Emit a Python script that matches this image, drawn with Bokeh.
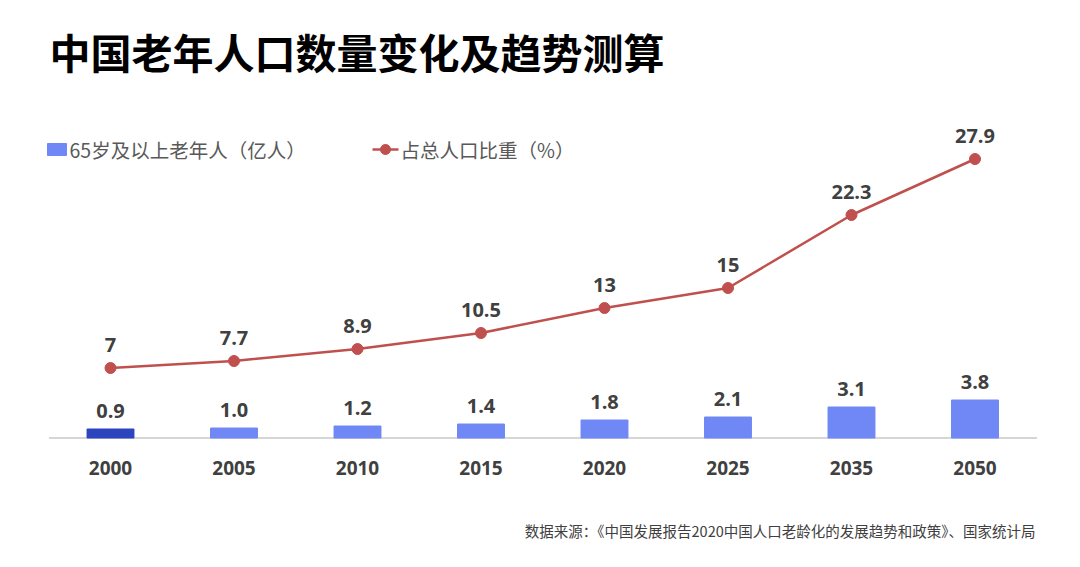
from bokeh.plotting import figure
from bokeh.models import Range1d, ColumnDataSource
from bokeh.core.properties import value
from bokeh.embed import file_html
from bokeh.resources import INLINE

# ---- data ----
years = ["2000", "2005", "2010", "2015", "2020", "2025", "2035", "2050"]
elderly_pop = [0.9, 1.0, 1.2, 1.4, 1.8, 2.1, 3.1, 3.8]          # 亿人
elderly_share = [7, 7.7, 8.9, 10.5, 13, 15, 22.3, 27.9]          # %
title_text = "中国老年人口数量变化及趋势测算"
legend_bar = "65岁及以上老年人（亿人）"
legend_line = "占总人口比重（%）"
source_text = "数据来源：《中国发展报告2020中国人口老龄化的发展趋势和政策》、国家统计局"

# ---- layout ----
W, H = 1064, 551
PX_PER_CAT = 123.5
PX_PER_UNIT = 10.0
first_center_px = 110.0
baseline_px = 437.5

x_start = -first_center_px / PX_PER_CAT
x_end = x_start + W / PX_PER_CAT
y_end = baseline_px / PX_PER_UNIT
y_start = y_end - H / PX_PER_UNIT


def X(px):
    return x_start + px / PX_PER_CAT


def Y(py):
    return y_end - py / PX_PER_UNIT


p = figure(width=W, height=H, output_backend="svg", toolbar_location=None,
           x_range=Range1d(x_start, x_end), y_range=Range1d(y_start, y_end),
           x_axis_type=None, y_axis_type=None, min_border=0)
p.outline_line_color = None
p.background_fill_color = "white"
p.border_fill_color = "white"
p.grid.visible = False

idx = list(range(len(years)))
bar_colors = ["#2C45BF"] + ["#7088F5"] * (len(years) - 1)
src = ColumnDataSource(dict(
    x=idx, year=years, pop=elderly_pop, share=elderly_share, color=bar_colors,
    pop_lbl=[f"{v:.1f}" for v in elderly_pop],
    share_lbl=[f"{v:g}" for v in elderly_share],
    zero=[0] * len(years),
))

CJK = value("Noto Sans CJK SC")
NUM = value("Open Sans")

# baseline axis line
p.line(x=[X(48.5), X(1036.5)], y=[0, 0], line_color="#C8C8C8", line_width=1.5)

# bars
p.vbar(x="x", top="pop", bottom=0, width=0.38, color="color", source=src)
p.text(x="x", y="pop", text="pop_lbl", source=src, text_font=NUM,
       text_font_style="bold", text_font_size="20px", text_color="#404040",
       text_align="center", text_baseline="middle", y_offset=-18)

# line
p.line(x="x", y="share", source=src, line_color="#C0504D", line_width=2.5)
p.scatter(x="x", y="share", source=src, size=11, fill_color="#C0504D",
          line_color="#C0504D")
p.text(x="x", y="share", text="share_lbl", source=src, text_font=NUM,
       text_font_style="bold", text_font_size="20px", text_color="#404040",
       text_align="center", text_baseline="middle", y_offset=-23)

# year labels (category axis)
p.text(x="x", y="zero", text="year", source=src, text_font=NUM,
       text_font_style="bold", text_font_size="19px", text_color="#404040",
       text_align="center", text_baseline="middle", y_offset=30)

# title
p.text(x=[X(49)], y=[Y(50)], text=[title_text], text_font=CJK,
       text_font_style="bold", text_font_size="41px", text_color="#000000",
       text_align="left", text_baseline="middle")

# legend
p.quad(left=[X(47)], right=[X(66)], top=[Y(143)], bottom=[Y(155)],
       color="#7088F5")
p.text(x=[X(69)], y=[Y(149)], text=[legend_bar], text_font=CJK,
       text_font_size="19.5px", text_color="#595959",
       text_align="left", text_baseline="middle")
p.line(x=[X(372), X(398)], y=[Y(149), Y(149)], line_color="#C0504D",
       line_width=2.5)
p.scatter(x=[X(385)], y=[Y(149)], size=10, fill_color="#C0504D",
          line_color="#C0504D")
p.text(x=[X(400)], y=[Y(149)], text=[legend_line], text_font=CJK,
       text_font_size="19.5px", text_color="#595959",
       text_align="left", text_baseline="middle")

# source
p.text(x=[X(1035)], y=[Y(530)], text=[source_text], text_font=CJK,
       text_font_size="14.5px", text_color="#404040",
       text_align="right", text_baseline="middle")

open("out.html", "w").write(file_html(p, INLINE))
